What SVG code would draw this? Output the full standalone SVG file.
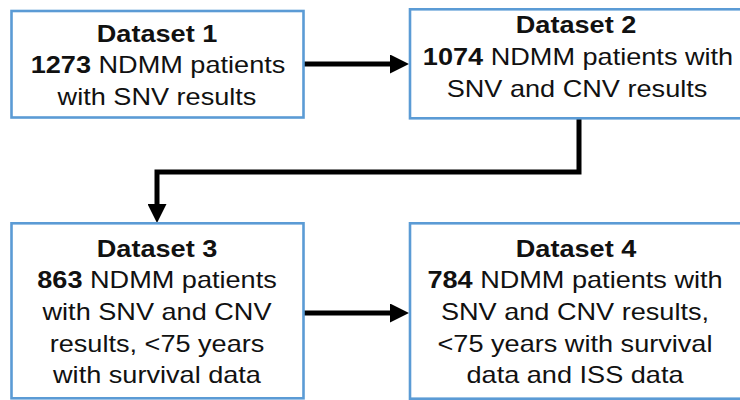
<svg xmlns="http://www.w3.org/2000/svg" width="740" height="400" viewBox="0 0 740 400">
<style>
.box{fill:#fff;stroke:#5b9bd5;stroke-width:2.6}
.t{font-family:"Liberation Sans",Arial,sans-serif;font-size:24px;fill:#111;text-anchor:middle}
.b{font-weight:bold}
.c{fill:none;stroke:#000;stroke-width:5;stroke-linejoin:miter}
</style>
<defs>
<marker id="ah" viewBox="0 0 19 19" refX="9" refY="9.5" markerWidth="19" markerHeight="19" markerUnits="userSpaceOnUse" orient="auto">
<path d="M0,0 L19,9.5 L0,19 z" fill="#000"/>
</marker>
</defs>
<rect width="740" height="400" fill="#fff"/>
<g id="connectors">
<path class="c" d="M304,64 H399" marker-end="url(#ah)"/>
<path class="c" d="M579,118 V172 H157 V213" marker-end="url(#ah)"/>
<path class="c" d="M304,313 H399" marker-end="url(#ah)"/>
</g>
<g id="dataset1">
<rect class="box" x="11.5" y="11" width="292" height="106.5"/>
<text class="t" transform="matrix(1.13,0,0,1,157,0)" x="0" y="42"><tspan class="b">Dataset 1</tspan></text>
<text class="t" transform="matrix(1.13,0,0,1,158,0)" x="0" y="73.5"><tspan class="b">1273</tspan> NDMM patients</text>
<text class="t" transform="matrix(1.13,0,0,1,157,0)" x="0" y="105">with SNV results</text>
</g>
<g id="dataset2">
<rect class="box" x="410" y="9.3" width="340" height="109"/>
<text class="t" transform="matrix(1.13,0,0,1,576,0)" x="0" y="33"><tspan class="b">Dataset 2</tspan></text>
<text class="t" transform="matrix(1.13,0,0,1,578,0)" x="0" y="65"><tspan class="b">1074</tspan> NDMM patients with</text>
<text class="t" transform="matrix(1.13,0,0,1,577,0)" x="0" y="97">SNV and CNV results</text>
</g>
<g id="dataset3">
<rect class="box" x="11.5" y="223.3" width="292" height="175"/>
<text class="t" transform="matrix(1.13,0,0,1,157,0)" x="0" y="256.7"><tspan class="b">Dataset 3</tspan></text>
<text class="t" transform="matrix(1.13,0,0,1,157,0)" x="0" y="288.3"><tspan class="b">863</tspan> NDMM patients</text>
<text class="t" transform="matrix(1.13,0,0,1,157,0)" x="0" y="320">with SNV and CNV</text>
<text class="t" transform="matrix(1.13,0,0,1,157,0)" x="0" y="351.7">results, &lt;75 years</text>
<text class="t" transform="matrix(1.13,0,0,1,157,0)" x="0" y="383.3">with survival data</text>
</g>
<g id="dataset4">
<rect class="box" x="410" y="223.3" width="340" height="175.4"/>
<text class="t" transform="matrix(1.13,0,0,1,576,0)" x="0" y="256.7"><tspan class="b">Dataset 4</tspan></text>
<text class="t" transform="matrix(1.13,0,0,1,575,0)" x="0" y="288.3"><tspan class="b">784</tspan> NDMM patients with</text>
<text class="t" transform="matrix(1.13,0,0,1,575,0)" x="0" y="320">SNV and CNV results,</text>
<text class="t" transform="matrix(1.13,0,0,1,575,0)" x="0" y="351.7">&lt;75 years with survival</text>
<text class="t" transform="matrix(1.13,0,0,1,575,0)" x="0" y="383.3">data and ISS data</text>
</g>
</svg>
